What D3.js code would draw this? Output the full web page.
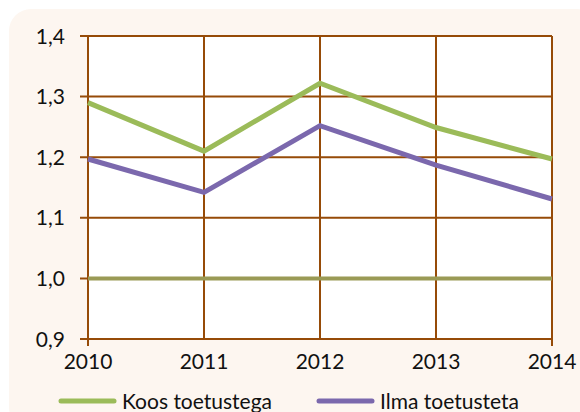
<!DOCTYPE html>
<html><head><meta charset="utf-8">
<script src="https://cdn.jsdelivr.net/npm/d3@7"></script>
<style>body{margin:0;background:#fff}svg{display:block}text{font-family:Lato,"Open Sans",sans-serif;fill:#111}</style>
</head><body><svg id="c" width="580" height="412"></svg>
<script>
const years = [2010, 2011, 2012, 2013, 2014];
const koos = [1.29, 1.21, 1.322, 1.249, 1.197];
const ilma = [1.197, 1.142, 1.252, 1.187, 1.131];
const baseline = [1.0, 1.0, 1.0, 1.0, 1.0];
const yTicks = [0.9, 1.0, 1.1, 1.2, 1.3, 1.4];
const seriesNames = ["Koos toetustega", "Ilma toetusteta"];
const colors = ["#9BBB59", "#7B68AD"];
const gridColor = "#964B08";

const svg = d3.select("#c");
svg.append("rect").attr("x", 9).attr("y", 9).attr("width", 590).attr("height", 420).attr("rx", 22).attr("fill", "#FDF6F0");

const x = d3.scalePoint().domain(years).range([88, 552]);
const y = d3.scaleLinear().domain([0.9, 1.4]).range([339, 36]);

svg.append("rect").attr("x", 88).attr("y", 36).attr("width", 464).attr("height", 303).attr("fill", "#fff");

const g = svg.append("g");
g.selectAll(".hg").data(yTicks).enter().append("line")
  .attr("x1", 80).attr("x2", 552).attr("y1", d => y(d)).attr("y2", d => y(d))
  .attr("stroke", gridColor).attr("stroke-width", 2);
g.selectAll(".vg").data(years).enter().append("line")
  .attr("x1", d => x(d)).attr("x2", d => x(d)).attr("y1", 36).attr("y2", (d, i) => i === 0 || i === years.length - 1 ? 346 : 339)
  .attr("stroke", gridColor).attr("stroke-width", 2);

const fmt = d => d3.format(".1f")(d).replace(".", ",");
g.selectAll(".yl").data(yTicks).enter().append("text")
  .attr("x", 65).attr("y", d => y(d)).attr("dy", "0.36em").attr("text-anchor", "end")
  .attr("font-size", 21).text(fmt);
g.selectAll(".xl").data(years).enter().append("text")
  .attr("x", d => x(d)).attr("y", 369).attr("text-anchor", "middle")
  .attr("font-size", 21).text(d => d);

const line = d3.line().x((d, i) => x(years[i])).y(d => y(d));
svg.append("path").datum(baseline).attr("d", line).attr("fill", "none").attr("stroke", "#9A9A55").attr("stroke-width", 4);
[koos, ilma].forEach((s, k) => {
  svg.append("path").datum(s).attr("d", line).attr("fill", "none")
    .attr("stroke", colors[k]).attr("stroke-width", 5).attr("stroke-linejoin", "miter");
});

const lx = [61, 319];
seriesNames.forEach((n, k) => {
  svg.append("line").attr("x1", lx[k]).attr("x2", lx[k] + 53).attr("y1", 401).attr("y2", 401)
    .attr("stroke", colors[k]).attr("stroke-width", 5).attr("stroke-linecap", "round");
  svg.append("text").attr("x", lx[k] + 61).attr("y", 401).attr("dy", "0.36em").attr("font-size", 21).text(n);
});
</script></body></html>
